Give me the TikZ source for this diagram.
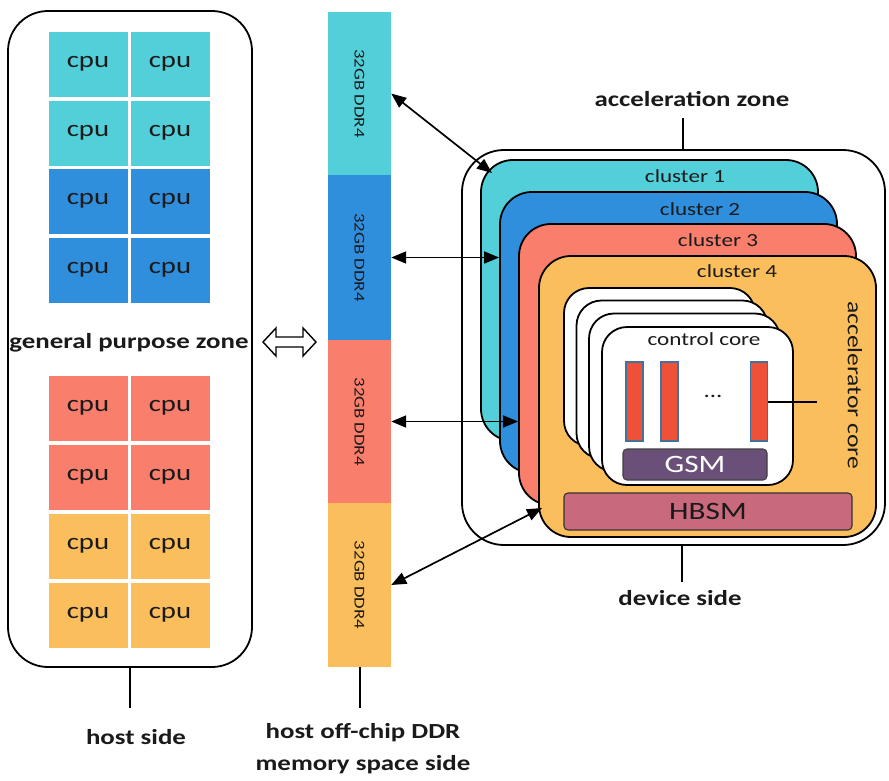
\documentclass[tikz,border=0pt]{standalone}
\usepackage{fontspec}
\setmainfont{Carlito}[FakeStretch=1.25]
\usetikzlibrary{arrows.meta}

\definecolor{cpucyan}{HTML}{53CFD9}
\definecolor{cpublue}{HTML}{2F8FDD}
\definecolor{cpusalmon}{HTML}{FA7E6C}
\definecolor{cpuorange}{HTML}{FBBE5C}
\definecolor{barred}{HTML}{EF5038}
\definecolor{baredge}{HTML}{41719C}
\definecolor{gsmfill}{HTML}{6A5078}
\definecolor{hbsmfill}{HTML}{C8697E}
\definecolor{ink}{HTML}{1A1A1A}

\tikzset{
  cell/.style={minimum width=79pt, minimum height=65pt, inner sep=0pt,
    font=\fontsize{23}{25}\selectfont, text=ink},
  ddrseg/.style={minimum width=63pt, inner sep=0pt},
  ddrtext/.style={rotate=-90, inner sep=0pt, font=\fontsize{15}{17}\selectfont, text=ink},
  lbl/.style={inner sep=0pt, font=\bfseries\fontsize{21.5}{26}\selectfont, text=ink, align=center},
  cllabel/.style={inner sep=0pt, font=\fontsize{18.5}{21}\selectfont, text=ink},
  clusterbox/.style={draw, line width=1.8pt, rounded corners=32pt,
    minimum width=337pt, minimum height=281pt, inner sep=0pt},
  corebox/.style={draw, fill=white, line width=1.8pt, rounded corners=25pt,
    minimum width=191pt, minimum height=158pt, inner sep=0pt},
  barbox/.style={fill=barred, draw=baredge, line width=1.1pt,
    minimum width=17pt, minimum height=79pt, inner sep=0pt},
  tiphead/.tip={Triangle[length=15pt,width=12pt]},
  biarrow/.style={tiphead-tiphead, line width=1.7pt},
  leader/.style={line width=1.8pt},
}

\begin{document}
\begin{tikzpicture}[x=1pt, y=-1pt]
\useasboundingbox (0,0) rectangle (889,780);

% ---------------- host side ----------------
\node[draw, line width=1.8pt, rounded corners=40pt, minimum width=244pt,
      minimum height=656pt, inner sep=0pt] (host) at (130,339) {};

\foreach \r/\y/\c in {1/64/cpucyan, 2/133/cpucyan, 3/201/cpublue, 4/270/cpublue,
                       5/408/cpusalmon, 6/477/cpusalmon, 7/546/cpuorange, 8/615/cpuorange}{
  \node[cell, fill=\c] (cpuL\r) at (88,\y) {cpu};
  \node[cell, fill=\c] (cpuR\r) at (170,\y) {cpu};
}

\node[lbl] (gpz) at (129,343) {general purpose zone};

% outlined double arrow between host and DDR
\draw[line width=1.4pt, fill=white, line join=miter]
  (263,342) -- (276,328) -- (276,337) -- (303,337) -- (303,328) -- (316,342)
  -- (303,356) -- (303,347) -- (276,347) -- (276,356) -- cycle;

% ---------------- host DDR column ----------------
\node[ddrseg, fill=cpucyan,   minimum height=163pt] (ddr1) at (359.5,93.5) {};
\node[ddrseg, fill=cpublue,   minimum height=165pt] (ddr2) at (359.5,257.5) {};
\node[ddrseg, fill=cpusalmon, minimum height=163pt] (ddr3) at (359.5,421.5) {};
\node[ddrseg, fill=cpuorange, minimum height=164pt] (ddr4) at (359.5,585) {};
\foreach \i in {1,2,3,4}{
  \node[ddrtext] (ddrt\i) at (ddr\i.center) {32GB DDR4};
}

% ---------------- device side ----------------
\node[draw, line width=1.8pt, rounded corners=42pt, minimum width=423pt,
      minimum height=395pt, inner sep=0pt] (accel) at (673.5,347.5) {};

\node[clusterbox, fill=cpucyan]   (cl1) at (649.5,300.5) {};
\node[cllabel] (cl1t) at (685,176) {cluster 1};
\node[clusterbox, fill=cpublue]   (cl2) at (668.5,332.5) {};
\node[cllabel] (cl2t) at (700,209) {cluster 2};
\node[clusterbox, fill=cpusalmon] (cl3) at (687.5,364.5) {};
\node[cllabel] (cl3t) at (718,240) {cluster 3};
\node[clusterbox, fill=cpuorange] (cl4) at (707.5,396.5) {};
\node[cllabel] (cl4t) at (737,271) {cluster 4};

% stacked accelerator cores
\node[corebox] (core1) at (659.5,367) {};
\node[corebox] (core2) at (672,379.5) {};
\node[corebox] (core3) at (684.5,392.5) {};
\node[corebox] (core4) at (697.5,406) {};
\node[cllabel] (ctl) at (704,339) {control core};

\node[barbox] (bar1) at (634.5,401.5) {};
\node[barbox] (bar2) at (669.5,401.5) {};
\node[barbox] (bar3) at (759,401.5) {};
\node[inner sep=0pt, font=\fontsize{20}{22}\selectfont, text=ink] (dots) at (713,396) {...};

\node[draw=black!75, fill=gsmfill, line width=1.1pt, rounded corners=4pt,
      minimum width=144pt, minimum height=31pt, inner sep=0pt, text=white,
      font=\fontsize{25}{26}\selectfont] (gsm) at (695,464.5) {GSM};
\node[draw=black!80, fill=hbsmfill, line width=1.1pt, rounded corners=4pt,
      minimum width=288pt, minimum height=37pt, inner sep=0pt, text=ink,
      font=\fontsize{25}{26}\selectfont] (hbsm) at (708,511.5) {HBSM};

\node[rotate=-90, inner sep=0pt, font=\fontsize{20.5}{22}\selectfont, text=ink]
  (acore) at (855,385) {accelerator core};
\coordinate (acorept) at (817,402);
\draw[leader] (bar3.east |- acorept) -- (acorept);

% ---------------- connectors between DDR and clusters ----------------
\coordinate (cl1pt) at (492,173);
\coordinate (cl4pt) at (542,508);
\draw[biarrow] (ddr1.east) -- (cl1pt);
\draw[biarrow] (ddr2.east) -- (cl2.west |- ddr2.east);
\draw[biarrow] (ddr3.east) -- (cl3.west |- ddr3.east);
\draw[biarrow] (ddr4.east) -- (cl4pt);

% ---------------- captions ----------------
\node[lbl] (azone) at (692,99) {acceleration zone};
\coordinate (azl) at (683,118);
\draw[leader] (azl) -- (azl |- accel.north);

\node[lbl] (dside) at (680,598) {device side};
\coordinate (dsl) at (682,582);
\draw[leader] (dsl |- accel.south) -- (dsl);

\node[lbl] (hside) at (136,737) {host side};
\coordinate (hsl) at (130,708);
\draw[leader] (hsl |- host.south) -- (hsl);

\node[lbl, font=\bfseries\fontsize{21.5}{32}\selectfont] (mside) at (363,749) {host off-chip DDR\\memory space side};
\coordinate (msl) at (360,708);
\draw[leader] (msl |- ddr4.south) -- (msl);
\end{tikzpicture}
\end{document}
